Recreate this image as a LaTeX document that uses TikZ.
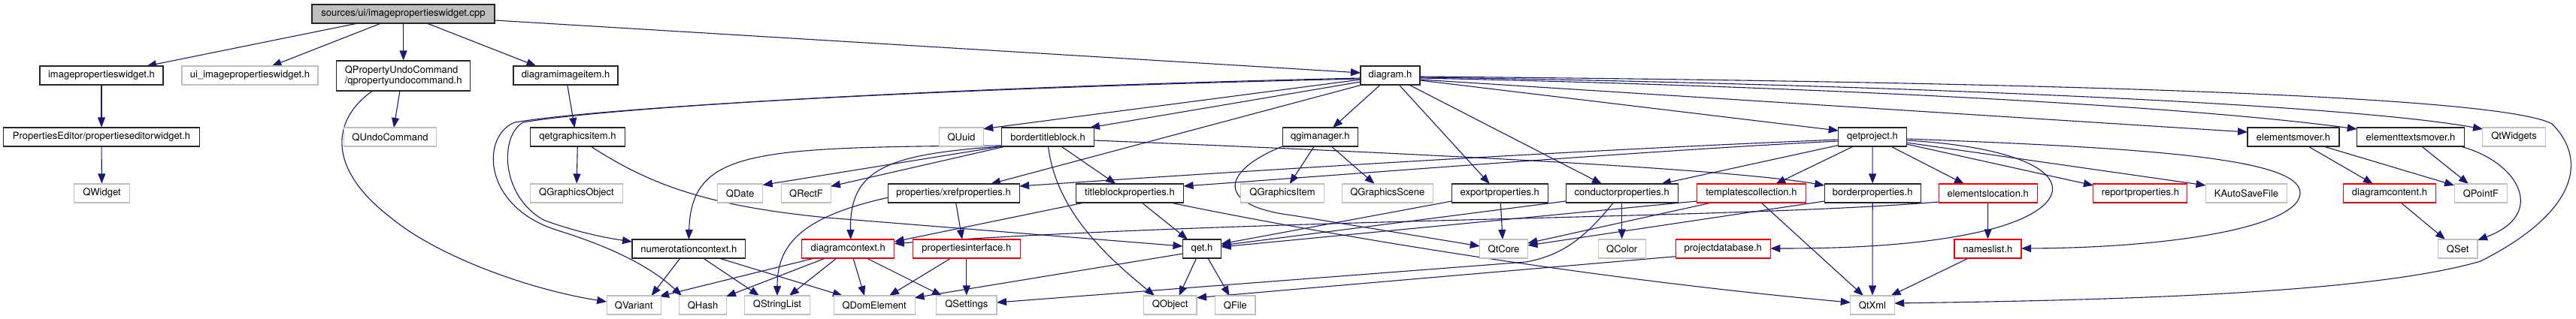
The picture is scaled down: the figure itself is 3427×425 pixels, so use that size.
\documentclass[tikz,border=0pt]{standalone}
\usepackage{fontspec}
\setmainfont{TeX Gyre Heros}
\usetikzlibrary{arrows.meta,calc}
\definecolor{mblue}{HTML}{191970}
\definecolor{lgray}{HTML}{BFBFBF}
\pgfdeclarelayer{bglayer}
\pgfdeclarelayer{edgelayer}
\pgfsetlayers{bglayer,edgelayer,main}
\begin{document}
\begin{tikzpicture}[x=1pt,y=-1pt,
  box/.style={draw=black!85, fill=white, line width=1.1pt, minimum height=25pt, inner sep=0pt, font=\fontsize{13}{14.5}\selectfont, text=black},
  gbox/.style={box, draw=lgray},
  rbox/.style={box, draw=red},
  mbox/.style={box, fill=lgray},
  dep/.style={draw=mblue, line width=1.1pt, -{Triangle[length=13pt,width=10pt]}},
]
\begin{pgfonlayer}{bglayer}
\fill[white] (0,0) rectangle (3427,425);
\end{pgfonlayer}
\path[use as bounding box] (0,0) rectangle (3427,425);
% row 0
\node[mbox, minimum width=243pt] (main) at (536.5,18.5) {sources/ui/imagepropertieswidget.cpp};
% row 1
\node[box, minimum width=164pt] (ipw) at (135,100.5) {imagepropertieswidget.h};
\node[gbox, minimum width=181pt] (uipw) at (332.5,100.5) {ui\_imagepropertieswidget.h};
\node[box, minimum width=178pt, minimum height=40pt, align=left] (qpuc) at (536.7,101) {QPropertyUndoCommand\\/qpropertyundocommand.h};
\node[box, minimum width=139pt] (dii) at (752.5,100.5) {diagramimageitem.h};
\node[box, minimum width=79pt] (dg) at (1849.5,100.5) {diagram.h};
% row 2
\node[box, minimum width=260.5pt] (pew) at (135,182.5) {PropertiesEditor/propertieseditorwidget.h};
\node[gbox, minimum width=123pt] (quc) at (519,182.5) {QUndoCommand};
\node[box, minimum width=125.5pt] (qgi) at (768.5,182.5) {qetgraphicsitem.h};
\node[gbox, minimum width=58.5pt] (quuid) at (1279,182.5) {QUuid};
\node[box, minimum width=123pt] (btb) at (1394,182.5) {bordertitleblock.h};
\node[box, minimum width=100pt] (qgim) at (1756.4,182.5) {qgimanager.h};
\node[box, minimum width=90.7pt] (qp) at (2491,182.5) {qetproject.h};
\node[box, minimum width=122pt] (em) at (3051,182.5) {elementsmover.h};
\node[box, minimum width=142.7pt] (etm) at (3207,182.5) {elementtextsmover.h};
\node[gbox, minimum width=84pt] (qtw) at (3344.5,182.5) {QtWidgets};
% row 3
\node[gbox, minimum width=73.5pt] (qwid) at (135.5,257.5) {QWidget};
\node[gbox, minimum width=123pt] (qgo) at (767,257.5) {QGraphicsObject};
\node[gbox, minimum width=60pt] (qdate) at (984.6,257.5) {QDate};
\node[gbox, minimum width=66.6pt] (qrectf) at (1072.5,257.5) {QRectF};
\node[box, minimum width=175pt] (xref) at (1268.6,257.5) {properties/xrefproperties.h};
\node[box, minimum width=143pt] (tbp) at (1503,257.5) {titleblockproperties.h};
\node[gbox, minimum width=110.4pt] (qgitem) at (1706,257.5) {QGraphicsItem};
\node[gbox, minimum width=121pt] (qgscene) at (1845.8,257.5) {QGraphicsScene};
\node[box, minimum width=128pt] (exp) at (1995.3,257.5) {exportproperties.h};
\node[box, minimum width=149.3pt] (cp) at (2157.7,257.5) {conductorproperties.h};
\node[rbox, minimum width=145pt] (tc) at (2330,257.5) {templatescollection.h};
\node[box, minimum width=128pt] (bp) at (2491.2,257.5) {borderproperties.h};
\node[rbox, minimum width=131pt] (el) at (2644.7,257.5) {elementslocation.h};
\node[rbox, minimum width=125pt] (rp) at (2847.4,257.5) {reportproperties.h};
\node[gbox, minimum width=108pt] (kas) at (2988.5,257.5) {KAutoSaveFile};
\node[rbox, minimum width=123pt] (dcont) at (3179,257.5) {diagramcontent.h};
\node[gbox, minimum width=70.6pt] (qpf) at (3300.4,257.5) {QPointF};
% row 4
\node[box, minimum width=150.7pt] (nc) at (916.3,331.5) {numerotationcontext.h};
\node[rbox, minimum width=123pt] (dctx) at (1128.2,331.5) {diagramcontext.h};
\node[rbox, minimum width=143pt] (pi) at (1285.8,331.5) {propertiesinterface.h};
\node[box, minimum width=51pt] (qet) at (1599,331.5) {qet.h};
\node[gbox, minimum width=63.7pt] (qtcore) at (2000.5,331.5) {QtCore};
\node[gbox, minimum width=62.7pt] (qcolor) at (2157.7,331.5) {QColor};
\node[rbox, minimum width=126pt] (pdb) at (2292.3,331.5) {projectdatabase.h};
\node[rbox, minimum width=89pt] (nl) at (2644.5,331.5) {nameslist.h};
\node[gbox, minimum width=52.6pt] (qset) at (3269.7,331.5) {QSet};
% row 5
\node[gbox, minimum width=72pt] (qvar) at (843.2,406.5) {QVariant};
\node[gbox, minimum width=62.4pt] (qhash) at (935,406.5) {QHash};
\node[gbox, minimum width=87pt] (qsl) at (1034,406.5) {QStringList};
\node[gbox, minimum width=108pt] (qdom) at (1163.2,406.5) {QDomElement};
\node[gbox, minimum width=80.4pt] (qsets) at (1285.8,406.5) {QSettings};
\node[gbox, minimum width=70.5pt] (qobj) at (1556.7,406.5) {QObject};
\node[gbox, minimum width=53.2pt] (qfile) at (1643.4,406.5) {QFile};
\node[gbox, minimum width=58.5pt] (qtxml) at (2491,406.5) {QtXml};

\begin{pgfonlayer}{edgelayer}
\draw[dep] ($(main)+(-60.5,12.5)$) -- ($(ipw)+(60,-12.5)$);
\draw[dep] ($(main)+(-29.5,12.5)$) -- ($(uipw)+(29,-12.5)$);
\draw[dep] (main) -- (qpuc);
\draw[dep] ($(main)+(31.5,12.5)$) -- ($(dii)+(-39,-12.5)$);
\draw[dep] ($(main)+(121.5,8.5)$) -- ($(dg)+(-39.5,-3.5)$);
\draw[dep] (ipw) -- (pew);
\draw[dep] (pew) -- (qwid);
\draw[dep] ($(qpuc)+(-4.7,20)$) -- ($(quc)+(5,-12.5)$);
\draw[dep] ($(qpuc)+(-41,20)$) .. controls (440,160) and (435,225) .. (520,290) .. controls (580,340) and (700,385) .. ($(qvar)+(-36,-4.5)$);
\draw[dep] ($(dii)+(2.3,12.5)$) -- ($(qgi)+(-4.1,-12.5)$);
\draw[dep] (qgi) -- (qgo);
\draw[dep] ($(qgi)+(17.5,12.5)$) .. controls (870,250) and (950,275) .. (1100,290) -- ($(qet)+(-25.5,-3.5)$);
\draw[dep] ($(dg)+(-39.5,5.5)$) -- ($(quuid)+(29.2,-10.8)$);
\draw[dep] ($(dg)+(-39.5,8.5)$) -- ($(btb)+(56,-12.5)$);
\draw[dep] ($(dg)+(-37.5,12.5)$) -- ($(xref)+(49.4,-12.5)$);
\draw[dep] ($(dg)+(-39.5,3.5)$) .. controls (1200,118) and (800,145) .. (696,163) .. controls (665,180) and (665,260) .. (723,293) .. controls (760,307) and (800,316) .. ($(nc)+(-75.3,-9.5)$);
\draw[dep] ($(dg)+(-39.5,4.5)$) .. controls (1200,119) and (790,145) .. (685,163) .. controls (640,180) and (640,275) .. (742,307) .. controls (800,325) and (860,350) .. ($(qhash)+(-28,-12.5)$);
\draw[dep] ($(btb)+(-61.3,11.5)$) .. controls (1000,196) and (920,200) .. ($(nc)+(0,-12.5)$);
\draw[dep] ($(btb)+(-61.3,12.5)$) -- ($(qdate)+(30,-11)$);
\draw[dep] ($(btb)+(-56,12.5)$) -- ($(qrectf)+(32.5,-9.2)$);
\draw[dep] ($(btb)+(-59,12.5)$) .. controls (1180,205) and (1130,225) .. ($(dctx)+(3.5,-12.5)$);
\draw[dep] ($(btb)+(17.7,12.5)$) -- ($(tbp)+(-18.6,-12.5)$);
\draw[dep] ($(btb)+(0.5,12.5)$) .. controls (1405,280) and (1470,340) .. ($(qobj)+(-20.7,-12.5)$);
\draw[dep] ($(btb)+(61.3,4.5)$) .. controls (1900,205) and (2300,225) .. ($(bp)+(-64,-10.5)$);
\draw[dep] ($(xref)+(3.1,12.5)$) -- ($(pi)+(-5.8,-12.5)$);
\draw[dep] ($(xref)+(-87.5,5.8)$) .. controls (1060,290) and (1034,330) .. ($(qsl)+(0,-12.5)$);
\draw[dep] ($(tbp)+(-60.7,12.5)$) -- ($(dctx)+(61.5,-9.5)$);
\draw[dep] ($(tbp)+(16,12.5)$) -- ($(qet)+(-19,-12.5)$);
\draw[dep] ($(tbp)+(54,12.5)$) .. controls (1750,310) and (2100,370) .. ($(qtxml)+(-29.2,-3.5)$);
\draw[dep] ($(pi)+(-20.8,12.5)$) -- ($(qdom)+(19.8,-12.5)$);
\draw[dep] (pi) -- (qsets);
\draw[dep] ($(dctx)+(-44.9,12.5)$) -- ($(qvar)+(33.8,-11.5)$);
\draw[dep] ($(dctx)+(-30.2,12.5)$) -- ($(qhash)+(31,-11.5)$);
\draw[dep] ($(dctx)+(-15.2,12.5)$) -- ($(qsl)+(16,-12.5)$);
\draw[dep] ($(dctx)+(6.8,12.5)$) -- ($(qdom)+(-13.2,-12.5)$);
\draw[dep] ($(dctx)+(24.8,12.5)$) -- ($(qsets)+(-32.8,-12.5)$);
\draw[dep] ($(nc)+(-11.4,12.5)$) -- ($(qvar)+(23.4,-12.5)$);
\draw[dep] ($(nc)+(19.2,12.5)$) -- ($(qsl)+(-24,-12.5)$);
\draw[dep] ($(nc)+(40.2,12.5)$) -- ($(qdom)+(-42.2,-12.5)$);
\draw[dep] ($(qet)+(-25.5,6.5)$) -- ($(qdom)+(53.3,-9.8)$);
\draw[dep] ($(qet)+(-7.4,12.5)$) -- ($(qobj)+(11.9,-12.5)$);
\draw[dep] ($(qet)+(8,12.5)$) -- ($(qfile)+(-7.8,-12.5)$);
\draw[dep] ($(dg)+(-13.2,12.5)$) -- ($(qgim)+(16.7,-12.5)$);
\draw[dep] ($(dg)+(11.7,12.5)$) -- ($(exp)+(-13.6,-12.5)$);
\draw[dep] ($(dg)+(25.1,12.5)$) -- ($(cp)+(-26.7,-12.5)$);
\draw[dep] ($(qgim)+(-8.1,12.5)$) -- ($(qgitem)+(9.7,-12.5)$);
\draw[dep] ($(qgim)+(14.8,12.5)$) -- ($(qgscene)+(-17.2,-12.5)$);
\draw[dep] ($(qgim)+(-50.4,12.5)$) .. controls (1620,230) and (1620,275) .. (1720,287) -- ($(qtcore)+(-31.8,-3.5)$);
\draw[dep] ($(exp)+(1,12.5)$) -- ($(qtcore)+(-1.5,-12.5)$);
\draw[dep] ($(exp)+(-63.9,10.5)$) -- ($(qet)+(25.5,-6.5)$);
\draw[dep] ($(cp)+(-74.6,10.5)$) -- ($(qet)+(25.5,-4.5)$);
\draw[dep] (cp) -- (qcolor);
\draw[dep] ($(cp)+(-11.4,12.5)$) .. controls (2110,315) and (2080,340) .. (2030,349) -- ($(qsets)+(40.2,-3.5)$);
\draw[dep] ($(pdb)+(-63,10.2)$) -- ($(qobj)+(35.3,-9.8)$);
\draw[dep] ($(tc)+(-53,12.5)$) -- ($(qtcore)+(31.9,-7.5)$);
\draw[dep] ($(tc)+(-72.7,10.5)$) -- ($(qet)+(25.5,-2.5)$);
\draw[dep] ($(tc)+(13,12.5)$) -- ($(qtxml)+(-12,-12.5)$);
\draw[dep] ($(bp)+(-63.9,10.5)$) -- ($(qtcore)+(31.9,-4.5)$);
\draw[dep] (bp) -- (qtxml);
\draw[dep] ($(el)+(-65.4,11.5)$) .. controls (2300,292) and (1700,290) .. ($(dctx)+(61.5,-7)$);
\draw[dep] (el) -- (nl);
\draw[dep] ($(nl)+(-25.8,12.5)$) -- ($(qtxml)+(24.4,-12.5)$);
\draw[dep] (qp) -- (bp);
\draw[dep] ($(qp)+(-25.4,12.5)$) -- ($(tc)+(32.3,-12.5)$);
\draw[dep] ($(qp)+(24.4,12.5)$) -- ($(el)+(-31.7,-12.5)$);
\draw[dep] ($(qp)+(45.3,9.5)$) -- ($(rp)+(-62.5,-10.5)$);
\draw[dep] ($(qp)+(45.3,7.5)$) -- ($(kas)+(-54,-10.5)$);
\draw[dep] ($(qp)+(45.3,4.5)$) .. controls (2760,200) and (2780,270) .. (2650,305) .. controls (2560,328) and (2450,331) .. ($(pdb)+(63,-0.5)$);
\draw[dep] ($(qp)+(45.3,2.5)$) .. controls (2850,197) and (3060,210) .. (3060,257) .. controls (3060,300) and (2900,330) .. ($(nl)+(44.5,-0.5)$);
\draw[dep] ($(qp)+(-44.3,10.8)$) -- ($(cp)+(52.3,-12.5)$);
\draw[dep] ($(qp)+(-45.3,3.5)$) .. controls (2100,200) and (1700,225) .. ($(xref)+(87.5,-9.5)$);
\draw[dep] ($(qp)+(-45.3,5.5)$) .. controls (2200,200) and (1800,232) .. ($(tbp)+(71.5,-9.5)$);
\draw[dep] ($(dg)+(39.5,6.5)$) -- ($(qp)+(-45.3,-8.5)$);
\draw[dep] ($(dg)+(39.5,5.5)$) -- ($(em)+(-61,-6.5)$);
\draw[dep] ($(dg)+(39.5,3.5)$) .. controls (2400,115) and (2900,140) .. ($(etm)+(-71.3,-10.5)$);
\draw[dep] ($(dg)+(39.5,2.5)$) .. controls (2400,110) and (3100,135) .. ($(qtw)+(-41.5,-10.5)$);
\draw[dep] ($(dg)+(39.5,1.5)$) .. controls (2800,110) and (3330,130) .. (3395,165) .. controls (3445,215) and (3425,285) .. (3300,348) .. controls (3150,392) and (2800,400) .. ($(qtxml)+(29.2,-2.5)$);
\draw[dep] ($(em)+(19.8,12.5)$) -- ($(dcont)+(-22,-12.5)$);
\draw[dep] ($(em)+(40,12.5)$) -- ($(qpf)+(-35.3,-10.5)$);
\draw[dep] ($(etm)+(14.7,12.5)$) -- ($(qpf)+(-16.4,-12.5)$);
\draw[dep] ($(etm)+(66,12.5)$) .. controls (3350,215) and (3390,285) .. ($(qset)+(26.3,-11.5)$);
\draw[dep] ($(dcont)+(15,12.5)$) -- ($(qset)+(-16.7,-12.5)$);
\end{pgfonlayer}
\end{tikzpicture}
\end{document}
